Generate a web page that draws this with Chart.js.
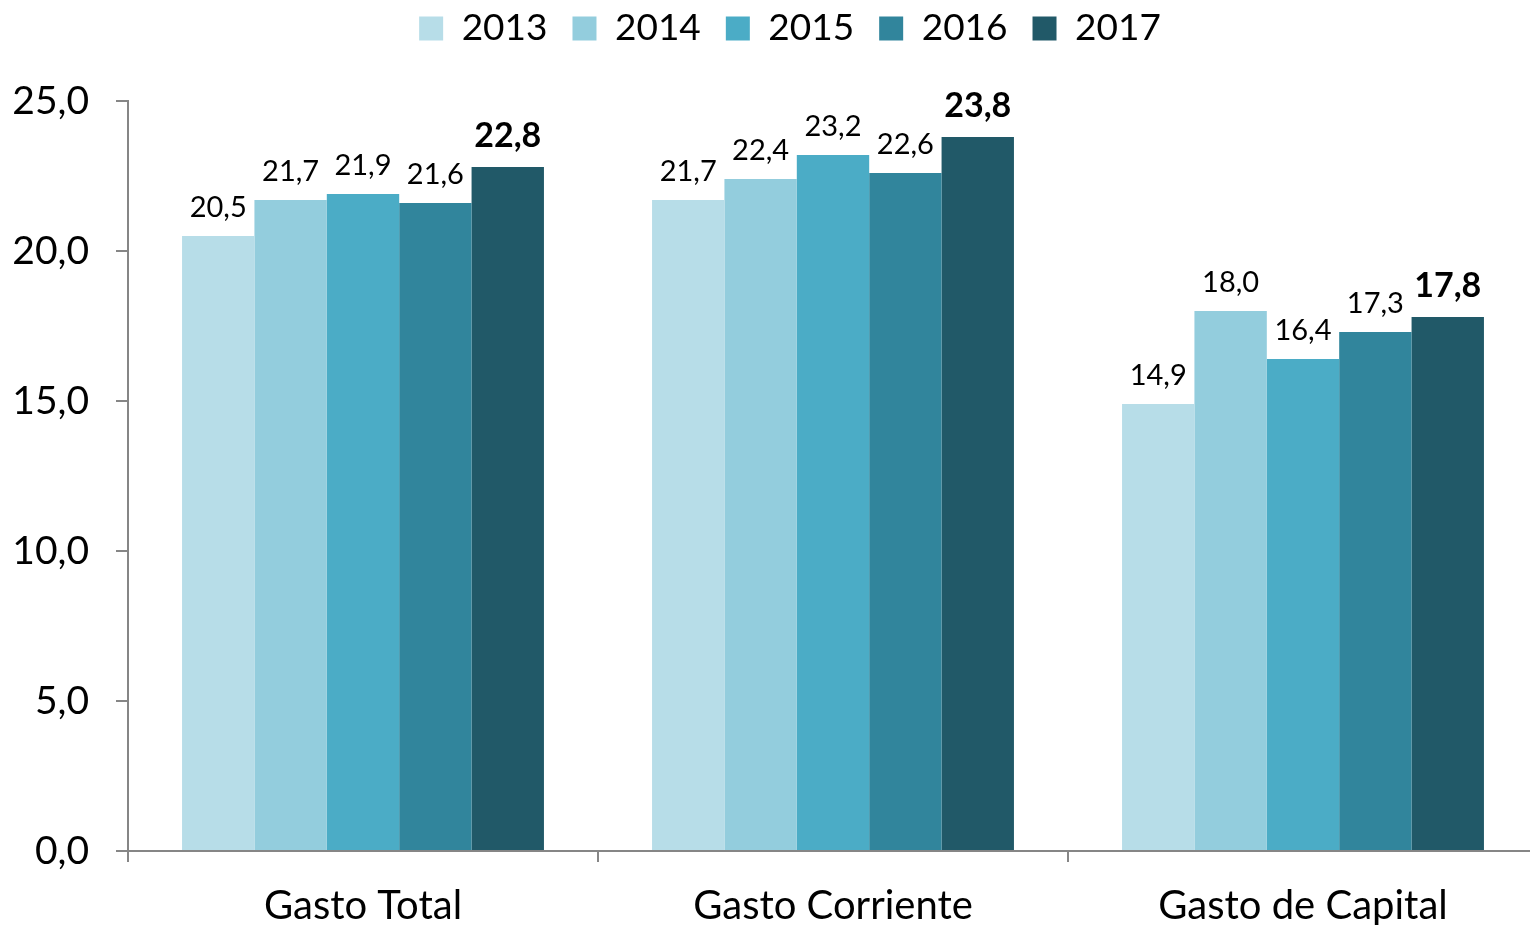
<!DOCTYPE html>
<html>
<head>
<meta charset="utf-8">
<script src="https://cdn.jsdelivr.net/npm/chart.js@4.4.0/dist/chart.umd.min.js"></script>
<style>
  html, body { margin: 0; padding: 0; background: #fff; overflow: hidden; }
  #wrap { width: 1540px; height: 925px; }
</style>
</head>
<body>
<div id="wrap"><canvas id="chart"></canvas></div>
<script>
// categorias y series
const categories = ['Gasto Total', 'Gasto Corriente', 'Gasto de Capital'];
const years = ['2013', '2014', '2015', '2016', '2017'];
const v2013 = [20.5, 21.7, 14.9];
const v2014 = [21.7, 22.4, 18.0];
const v2015 = [21.9, 23.2, 16.4];
const v2016 = [21.6, 22.6, 17.3];
const v2017 = [22.8, 23.8, 17.8];
const yTicks = [0, 5, 10, 15, 20, 25];

const seriesValues = [v2013, v2014, v2015, v2016, v2017];
const colors = ['#B7DDE8', '#93CDDD', '#4BACC6', '#31859C', '#215968'];
const FONT = "Lato, 'Open Sans', sans-serif";

const fmt = (v) => Number(v).toFixed(1).replace('.', ',');

// etiquetas encima de cada barra
const barLabels = {
  id: 'barLabels',
  afterDatasetsDraw(chart) {
    const ctx = chart.ctx;
    ctx.save();
    ctx.textAlign = 'center';
    ctx.textBaseline = 'bottom';
    ctx.fillStyle = '#000';
    chart.data.datasets.forEach((ds, i) => {
      const meta = chart.getDatasetMeta(i);
      const last = i === chart.data.datasets.length - 1;
      ctx.font = last ? `bold 34px ${FONT}` : `29px ${FONT}`;
      meta.data.forEach((bar, j) => {
        ctx.fillText(fmt(ds.data[j]), bar.x, bar.y - 14);
      });
    });
    ctx.restore();
  }
};

// espacio extra bajo la leyenda y leyenda algo desplazada a la derecha
const legendSpacing = {
  id: 'legendSpacing',
  beforeInit(chart) {
    const fit = chart.legend.fit;
    chart.legend.fit = function () {
      fit.bind(chart.legend)();
      this.height += 44;
    };
  },
  beforeDraw(chart) {
    chart.legend.left = 50;
    chart.legend.right = 1530;
  }
};

new Chart(document.getElementById('chart'), {
  type: 'bar',
  data: {
    labels: categories,
    datasets: years.map((y, i) => ({
      label: y,
      data: seriesValues[i],
      backgroundColor: colors[i],
      borderWidth: 0,
      categoryPercentage: 0.77,
      barPercentage: 1.0
    }))
  },
  options: {
    responsive: true,
    maintainAspectRatio: false,
    animation: false,
    layout: { padding: { left: 0, right: 2, top: -15, bottom: 0 } },
    plugins: {
      legend: {
        position: 'top',
        labels: {
          font: { family: FONT, size: 37 },
          color: '#000',
          boxWidth: 24,
          boxHeight: 24,
          padding: 25
        }
      },
      tooltip: { enabled: false }
    },
    scales: {
      x: {
        afterFit: (axis) => { axis.height = 74; },
        grid: {
          display: true,
          drawOnChartArea: false,
          offset: true,
          color: '#868686',
          lineWidth: 2,
          tickLength: 11
        },
        border: { color: '#868686', width: 2 },
        ticks: {
          font: { family: FONT, size: 40 },
          color: '#000',
          padding: 20
        }
      },
      y: {
        min: 0,
        max: 25,
        afterBuildTicks: (axis) => { axis.ticks = yTicks.map(v => ({ value: v })); },
        afterFit: (axis) => { axis.width = 128; },
        grid: {
          display: true,
          drawOnChartArea: false,
          color: '#868686',
          lineWidth: 2,
          tickLength: 12
        },
        border: { color: '#868686', width: 2 },
        ticks: {
          font: { family: FONT, size: 39 },
          color: '#000',
          padding: 27,
          callback: (v) => fmt(v)
        }
      }
    }
  },
  plugins: [barLabels, legendSpacing]
});
</script>
</body>
</html>
